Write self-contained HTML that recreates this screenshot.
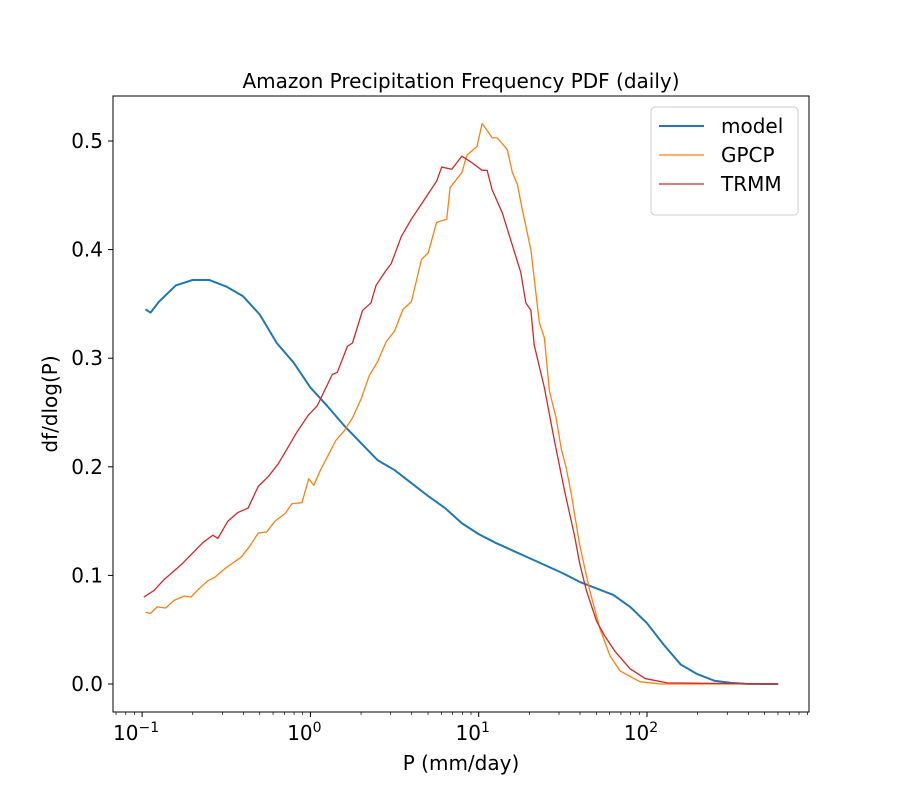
<!DOCTYPE html>
<html><head><meta charset="utf-8"><style>
html,body{margin:0;padding:0;background:#fff;}
svg{display:block;font-family:"DejaVu Sans","Liberation Sans",sans-serif;}
</style></head><body>
<svg id="chart" width="900" height="800" viewBox="0 0 900 800" xmlns="http://www.w3.org/2000/svg">
<rect x="0" y="0" width="900" height="800" fill="#fff"/>
<text x="461" y="88" font-size="20" text-anchor="middle">Amazon Precipitation Frequency PDF (daily)</text>
<g id="plot"></g>
<text x="461" y="770" font-size="20" text-anchor="middle">P (mm/day)</text>
<text x="57" y="404" font-size="20" text-anchor="middle" transform="rotate(-90 57 404)">df/dlog(P)</text>
<g>
<rect x="651" y="107" width="147" height="108" rx="4" fill="#fff" fill-opacity="0.8" stroke="#ccc"/>
<g><line x1="659" y1="126" x2="704" y2="126" stroke="#1f77b4" stroke-width="2"/><text x="721" y="133" font-size="20">model</text></g>
<g><line x1="659" y1="155" x2="704" y2="155" stroke="#ff7f0e" stroke-width="1.3"/><text x="721" y="162" font-size="20">GPCP</text></g>
<g><line x1="659" y1="184" x2="704" y2="184" stroke="#d62728" stroke-width="1.3"/><text x="721" y="191" font-size="20">TRMM</text></g>
</g>
</svg>
<script>
const modelLogP=[-0.98,-0.95,-0.9,-0.8,-0.7,-0.6,-0.5,-0.4,-0.3,-0.2,-0.1,0,0.1,0.2,0.3,0.4,0.5,0.6,0.7,0.8,0.9,1.0,1.1,1.2,1.3,1.4,1.5,1.6,1.7,1.8,1.9,2.0,2.1,2.2,2.3,2.4,2.5,2.6,2.7,2.78];
const modelVals=[0.345,0.342,0.352,0.367,0.372,0.372,0.366,0.357,0.340,0.314,0.296,0.273,0.256,0.238,0.222,0.206,0.197,0.185,0.173,0.162,0.148,0.138,0.130,0.123,0.116,0.109,0.102,0.094,0.088,0.082,0.071,0.056,0.036,0.018,0.009,0.003,0.001,0,0,0];
const gpcpLogP=[-0.98,-0.95,-0.91,-0.86,-0.81,-0.75,-0.71,-0.66,-0.61,-0.57,-0.51,-0.41,-0.36,-0.31,-0.26,-0.21,-0.15,-0.11,-0.05,-0.01,0.02,0.06,0.10,0.15,0.20,0.25,0.30,0.35,0.40,0.45,0.50,0.55,0.60,0.66,0.70,0.75,0.81,0.83,0.90,0.93,0.99,1.02,1.04,1.08,1.11,1.17,1.20,1.23,1.26,1.31,1.36,1.39,1.42,1.46,1.49,1.52,1.55,1.60,1.66,1.72,1.78,1.84,1.90,1.96,2.08,2.78];
const gpcpVals=[0.066,0.065,0.071,0.070,0.077,0.081,0.080,0.088,0.095,0.098,0.106,0.117,0.127,0.139,0.140,0.150,0.157,0.166,0.167,0.189,0.183,0.197,0.209,0.224,0.233,0.245,0.262,0.284,0.297,0.315,0.325,0.345,0.352,0.391,0.397,0.425,0.428,0.457,0.471,0.487,0.495,0.516,0.512,0.503,0.503,0.492,0.471,0.460,0.436,0.400,0.333,0.319,0.270,0.245,0.217,0.199,0.175,0.128,0.086,0.051,0.026,0.012,0.007,0.002,0,0];
const trmmLogP=[-0.99,-0.93,-0.87,-0.76,-0.64,-0.58,-0.55,-0.49,-0.43,-0.37,-0.31,-0.25,-0.19,-0.08,-0.01,0.04,0.13,0.16,0.22,0.25,0.31,0.36,0.39,0.45,0.48,0.54,0.60,0.69,0.75,0.78,0.84,0.90,0.96,1.02,1.05,1.08,1.14,1.20,1.25,1.28,1.31,1.33,1.39,1.45,1.51,1.57,1.60,1.64,1.70,1.75,1.81,1.90,1.99,2.12,2.78];
const trmmVals=[0.080,0.086,0.096,0.111,0.130,0.137,0.134,0.150,0.158,0.162,0.182,0.191,0.203,0.232,0.248,0.256,0.285,0.287,0.311,0.314,0.344,0.351,0.367,0.381,0.387,0.412,0.428,0.449,0.463,0.476,0.474,0.486,0.480,0.473,0.473,0.455,0.434,0.404,0.379,0.351,0.344,0.312,0.273,0.224,0.178,0.136,0.111,0.086,0.058,0.044,0.030,0.014,0.005,0.001,0];
const yTicks=[0.0,0.1,0.2,0.3,0.4,0.5];
const xDecades=[-1,0,1,2];

const AX={l:113,r:809,t:96,b:712};
const X0=310.4, DEC=168.3;
function xs(lp){return X0+lp*DEC;}
function ys(v){return 684-v*1086;}
const NS='http://www.w3.org/2000/svg';
const g=document.getElementById('plot');
function mk(tag,attrs,parent){const e=document.createElementNS(NS,tag);for(const k in attrs)e.setAttribute(k,attrs[k]);(parent||g).appendChild(e);return e;}

for(const v of yTicks){
  const y=ys(v);
  const t=mk('line',{x1:AX.l-5,x2:AX.l,y1:y,y2:y,stroke:'#000','stroke-width':1});
  
  
  const l=mk('text',{x:AX.l-10,y:y+7,'font-size':20,'text-anchor':'end'});
  l.textContent=v.toFixed(1);
  
  
}
const minLp=(AX.l-X0)/DEC, maxLp=(AX.r-X0)/DEC;
for(let d=-2;d<=3;d++){
  for(let m=1;m<10;m++){
    const lp=d+Math.log10(m);
    if(lp<minLp||lp>maxLp)continue;
    const x=xs(lp);
    const t=mk('line',{x1:x,x2:x,y1:AX.b,y2:AX.b+(m===1?5:3),stroke:'#000','stroke-width':m===1?1:0.7});
    
    
  }
}
for(const d of xDecades){
  const x=xs(d);
  const l=mk('text',{x:x-6,y:AX.b+28,'font-size':20,'text-anchor':'middle'});
  
  
  l.appendChild(document.createTextNode('10'));
  const s=mk('tspan',{dy:-8,'font-size':14},l);
  s.textContent=(d<0?'\u2212'+(-d):String(d));
}
function series(lps,vals,color,w,name){
  let d='';
  for(let i=0;i<lps.length;i++){d+=(i?'L':'M')+xs(lps[i]).toFixed(2)+','+ys(vals[i]).toFixed(2);}
  const p=mk('path',{d:d,fill:'none',stroke:color,'stroke-width':w,'stroke-linejoin':'round'});
  
  
}
series(modelLogP,modelVals,'#1f77b4',2,'model-line');
series(gpcpLogP,gpcpVals,'#ff7f0e',1.3,'gpcp-line');
series(trmmLogP,trmmVals,'#d62728',1.3,'trmm-line');
const fr=mk('rect',{x:AX.l,y:AX.t,width:AX.r-AX.l,height:AX.b-AX.t,fill:'none',stroke:'#000','stroke-width':1});


</script>
</body></html>
